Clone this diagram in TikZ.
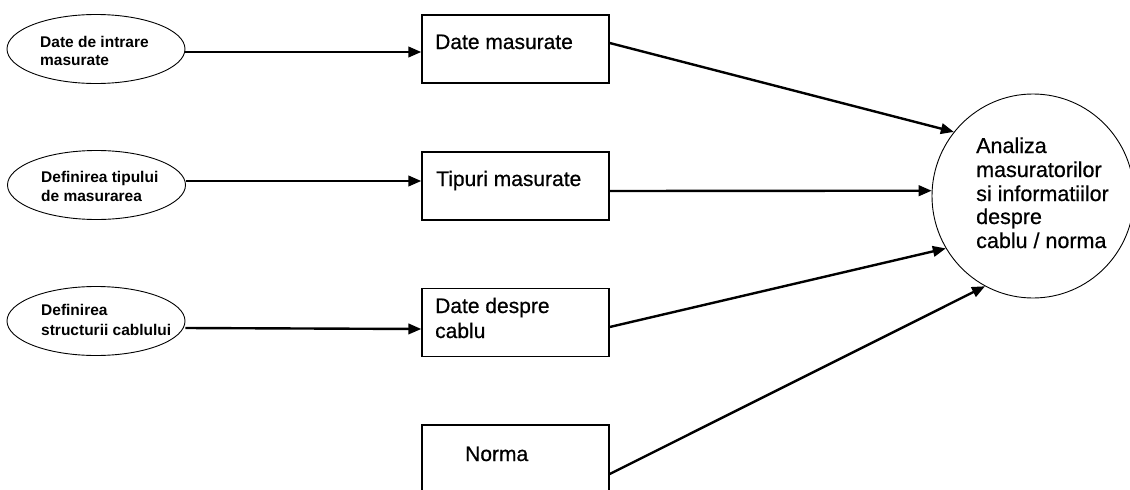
\documentclass[tikz,border=0pt]{standalone}
\usepackage{fontspec}
\setmainfont{Liberation Sans}
\newfontfamily\heavyfont[FakeBold=0.6]{Liberation Sans}
\usetikzlibrary{shapes.geometric,arrows.meta}
\tikzset{
  inell/.style={draw, ellipse, line width=0.9pt, minimum width=178pt, minimum height=69pt, inner sep=0pt},
  stepbox/.style={draw, rectangle, line width=1.4pt, minimum width=187pt, minimum height=68pt, inner sep=0pt},
  bigcirc/.style={draw, ellipse, line width=0.9pt, minimum width=202pt, minimum height=204pt, inner sep=0pt},
  arr/.style={line width=2.4pt, -{Triangle[length=13pt,width=10.5pt]}},
  etxt/.style={anchor=base west, inner sep=0pt, font=\fontsize{15.5pt}{18pt}\selectfont\bfseries},
  btxt/.style={anchor=base west, inner sep=0pt, font=\fontsize{21pt}{25pt}\heavyfont},
  ctxt/.style={anchor=base west, inner sep=0pt, font=\fontsize{21.5pt}{24pt}\heavyfont},
}
\begin{document}
\begin{tikzpicture}[x=1pt,y=-1pt]
\useasboundingbox[fill=white] (0,0) rectangle (1130,490);
% ellipses
\node[inell] (e1) at (96,49) {};
\node[inell] (e2) at (96.5,185) {};
\node[inell] (e3) at (96,321) {};
\node[etxt] (t1a) at (40,47) {Date de intrare};
\node[etxt] (t1b) at (40,65) {masurate};
\node[etxt] (t2a) at (41,182) {Definirea tipului};
\node[etxt] (t2b) at (41,201) {de masurarea};
\node[etxt] (t3a) at (41,315) {Definirea};
\node[etxt] (t3b) at (41,335) {structurii cablului};
% boxes
\node[stepbox] (b1) at (515.5,49) {};
\node[stepbox] (b2) at (515.5,186) {};
\node[stepbox] (b3) at (515.5,322.5) {};
\node[stepbox, minimum height=72pt] (b4) at (515.5,461) {};
\node[btxt] (bt1) at (435,49) {Date masurate};
\node[btxt] (bt2) at (436,186) {Tipuri masurate};
\node[btxt] (bt3a) at (435,313) {Date despre};
\node[btxt] (bt3b) at (435,338) {cablu};
\node[btxt] (bt4) at (465,461) {Norma};
% circle
\node[bigcirc] (c) at (1033,196) {};
\node[ctxt] (ct1) at (976,153) {Analiza};
\node[ctxt] (ct2) at (976,177) {masuratorilor};
\node[ctxt] (ct3) at (976,201) {si informatiilor};
\node[ctxt] (ct4) at (976,224) {despre};
\node[ctxt] (ct5) at (976,248) {cablu / norma};
% arrows ellipse -> box
\draw[arr] ([yshift=-3pt]e1.east) -- ([yshift=-3pt]b1.west);
\draw[arr] ([yshift=4pt]e2.east) -- ([yshift=5pt]b2.west);
\draw[arr] ([yshift=-7pt]e3.east) -- ([yshift=-6.5pt]b3.west);
% arrows box -> circle
\draw[arr] ([yshift=6pt]b1.east) -- (c.141);
\draw[arr] ([yshift=-5pt]b2.east) -- (c.177);
\draw[arr] ([yshift=-4.5pt]b3.east) -- (c.211);
\draw[arr] ([yshift=-13pt]b4.east) -- (c.242);
\end{tikzpicture}
\end{document}
